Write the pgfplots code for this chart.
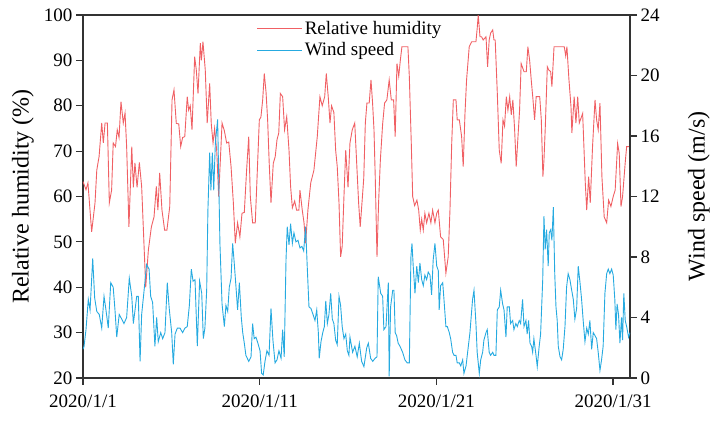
\documentclass[border=0pt]{standalone}
\usepackage{pgfplots}
\pgfplotsset{compat=1.18}
\usepackage{pgfplotstable}
\usepackage{fontspec}
\setmainfont{Liberation Serif}

\definecolor{rhred}{RGB}{240,96,100}
\definecolor{wsblue}{RGB}{38,170,224}

% relative humidity (%), x = days since 2020/1/1 00:00
\pgfplotstableread{
d rh
0.00 63.3
0.17 61.5
0.28 63.0
0.49 52.2
0.68 58.6
0.78 65.8
0.91 68.8
1.06 76.2
1.15 71.8
1.25 76.2
1.38 76.2
1.49 58.6
1.62 61.4
1.71 71.8
1.84 71.0
1.94 74.7
2.04 73.0
2.15 80.9
2.28 76.2
2.38 78.4
2.47 71.0
2.60 53.3
2.76 71.0
2.85 62.0
2.94 67.4
3.06 62.0
3.19 67.5
3.32 62.2
3.55 40.0
3.70 48.2
3.87 53.3
4.02 55.5
4.15 62.2
4.24 57.0
4.34 65.2
4.47 57.0
4.62 52.6
4.75 52.6
4.91 57.8
5.04 81.3
5.15 83.5
5.28 76.1
5.42 76.0
5.53 71.0
5.64 73.0
5.76 73.2
5.90 82.0
5.98 79.0
6.07 80.0
6.17 74.7
6.32 90.8
6.41 88.0
6.51 82.7
6.64 93.8
6.70 90.0
6.79 94.1
6.92 87.9
7.03 76.2
7.17 84.9
7.26 76.0
7.36 71.8
7.45 75.0
7.57 70.0
7.68 60.0
7.87 76.2
8.00 74.5
8.13 71.8
8.25 72.0
8.38 66.6
8.51 58.6
8.62 49.7
8.75 54.2
8.88 51.1
9.00 56.3
9.13 56.5
9.26 65.8
9.38 73.2
9.47 60.0
9.60 54.2
9.75 54.2
9.89 68.0
9.98 76.9
10.07 77.5
10.17 81.3
10.26 87.1
10.36 83.0
10.45 76.9
10.54 67.3
10.64 58.6
10.77 67.3
10.88 68.8
10.98 72.5
11.08 74.0
11.17 82.7
11.30 82.0
11.41 74.7
11.53 77.6
11.66 70.2
11.75 62.2
11.85 57.5
11.98 59.0
12.09 57.0
12.22 57.0
12.28 61.4
12.41 57.0
12.51 54.2
12.60 49.7
12.73 57.0
12.89 63.0
13.07 65.8
13.26 73.2
13.41 82.0
13.54 80.0
13.68 82.0
13.77 87.1
13.88 82.0
13.98 76.2
14.07 80.0
14.20 78.5
14.30 70.2
14.39 66.6
14.49 58.6
14.58 46.7
14.67 49.0
14.77 60.0
14.87 70.2
15.00 62.0
15.11 71.8
15.24 74.7
15.38 76.2
15.51 65.8
15.60 58.6
15.69 53.3
15.79 58.6
15.89 64.0
15.98 76.2
16.07 80.6
16.20 80.6
16.30 85.7
16.39 80.6
16.47 74.7
16.54 64.4
16.64 46.7
16.73 58.6
16.83 68.0
16.96 76.0
17.07 80.6
17.20 81.3
17.33 85.7
17.45 81.3
17.58 81.3
17.67 73.2
17.77 89.3
17.87 86.5
17.96 90.0
18.05 93.0
18.24 93.0
18.39 93.0
18.47 86.4
18.58 71.8
18.66 60.0
18.77 58.0
18.90 59.2
19.00 57.0
19.09 52.6
19.17 55.0
19.26 52.6
19.35 56.3
19.45 54.2
19.58 56.3
19.69 54.2
19.79 57.0
19.92 54.2
20.02 56.3
20.11 57.0
20.24 51.1
20.39 50.5
20.54 43.1
20.67 46.7
20.77 57.0
20.87 71.8
20.96 81.3
21.11 81.3
21.18 76.9
21.30 76.9
21.43 73.2
21.52 66.6
21.62 78.3
21.71 85.7
21.86 93.0
22.00 94.1
22.13 94.1
22.24 94.1
22.31 97.0
22.37 100.0
22.47 95.2
22.56 95.2
22.65 94.5
22.81 95.2
22.90 88.6
22.99 94.5
23.07 96.0
23.19 96.7
23.26 94.5
23.33 94.5
23.45 82.7
23.56 70.2
23.67 67.3
23.77 76.9
23.86 75.5
23.96 82.0
24.05 79.0
24.15 82.0
24.24 78.0
24.33 81.3
24.43 74.7
24.52 66.6
24.62 73.2
24.71 79.0
24.80 89.3
24.96 87.5
25.09 87.5
25.18 93.0
25.28 90.0
25.37 85.7
25.47 81.3
25.56 76.9
25.65 82.0
25.85 82.0
25.94 76.9
26.03 64.4
26.09 68.0
26.16 74.7
26.28 88.6
26.36 87.9
26.47 87.5
26.54 84.2
26.66 93.0
26.88 93.0
27.11 93.0
27.24 93.0
27.32 91.0
27.39 93.0
27.50 86.0
27.62 79.8
27.67 74.0
27.80 82.0
27.90 76.2
28.00 82.0
28.09 76.2
28.28 78.3
28.43 62.9
28.51 57.0
28.62 64.4
28.71 58.6
28.84 71.0
28.98 81.3
29.07 76.9
29.16 74.7
29.26 80.6
29.37 64.4
29.50 55.5
29.64 54.2
29.75 59.2
29.88 57.8
30.01 60.0
30.12 61.4
30.26 71.7
30.35 69.5
30.45 57.8
30.54 60.0
30.69 67.5
30.77 71.0
30.96 71.0
}\rhdata

% wind speed (m/s)
\pgfplotstableread{
d ws
0.00 1.9
0.06 2.1
0.17 3.2
0.30 5.2
0.40 4.5
0.55 7.9
0.66 5.3
0.78 4.4
0.92 4.2
1.06 3.3
1.19 5.4
1.30 4.5
1.43 3.3
1.57 6.3
1.71 6.0
1.81 4.5
1.91 2.7
2.05 4.2
2.19 3.9
2.32 3.6
2.47 4.0
2.62 6.6
2.76 5.4
2.85 3.6
3.04 5.4
3.13 5.4
3.23 1.1
3.32 4.2
3.45 5.7
3.60 7.5
3.74 7.2
3.83 5.4
3.94 5.0
4.07 2.1
4.17 4.0
4.26 2.4
4.40 3.0
4.51 2.6
4.64 3.0
4.77 6.3
4.88 4.6
5.02 3.0
5.11 0.9
5.21 2.9
5.34 3.3
5.49 3.3
5.64 3.0
5.77 3.3
5.90 3.4
6.02 4.8
6.13 7.2
6.23 6.4
6.34 6.5
6.47 2.1
6.60 6.4
6.72 5.6
6.81 2.6
6.90 3.3
7.00 5.8
7.07 11.1
7.17 14.9
7.24 12.4
7.32 14.9
7.40 12.4
7.49 15.5
7.62 17.1
7.75 8.9
7.87 4.9
8.00 3.4
8.09 4.8
8.19 4.4
8.28 6.0
8.38 6.6
8.47 8.9
8.56 7.6
8.66 6.0
8.75 4.5
8.85 6.3
8.96 4.0
9.04 3.0
9.13 2.3
9.22 1.5
9.38 1.1
9.51 1.4
9.60 3.6
9.69 2.6
9.79 2.7
9.90 2.3
10.02 1.8
10.11 0.3
10.20 0.2
10.30 1.1
10.41 1.8
10.53 1.5
10.64 4.6
10.75 2.5
10.87 1.0
10.98 1.2
11.09 1.8
11.21 1.3
11.30 3.2
11.39 1.4
11.49 7.8
11.56 10.0
11.66 8.8
11.75 10.2
11.85 8.9
11.94 9.6
12.05 9.0
12.17 9.1
12.28 8.6
12.39 8.7
12.49 8.4
12.60 10.0
12.69 7.4
12.79 4.7
12.90 4.6
13.02 4.2
13.13 3.8
13.23 4.5
13.32 3.0
13.37 1.3
13.47 2.4
13.57 3.0
13.66 3.4
13.74 5.1
13.83 3.6
13.92 4.2
14.02 5.6
14.11 3.9
14.20 3.6
14.30 2.5
14.39 2.2
14.49 5.4
14.58 4.8
14.67 3.4
14.77 2.6
14.87 2.9
14.96 1.8
15.05 1.5
15.11 2.7
15.26 1.7
15.39 2.1
15.52 1.4
15.64 2.3
15.77 1.1
15.90 0.75
16.06 2.0
16.15 2.3
16.28 1.3
16.40 1.1
16.53 1.3
16.64 1.4
16.71 6.7
16.85 5.6
16.96 5.4
17.03 3.2
17.15 3.4
17.28 6.3
17.33 0.1
17.41 4.7
17.53 5.8
17.60 5.8
17.67 3.0
17.75 2.8
17.84 2.3
17.94 2.1
18.09 1.7
18.22 1.2
18.35 1.0
18.47 1.0
18.56 8.0
18.62 8.9
18.69 7.4
18.79 5.6
18.89 7.4
18.98 6.3
19.07 7.6
19.17 6.5
19.26 6.1
19.35 6.8
19.45 6.5
19.54 7.0
19.64 6.8
19.73 5.5
19.82 7.8
19.92 8.9
20.02 7.4
20.11 7.1
20.16 4.5
20.24 6.1
20.36 6.3
20.43 5.2
20.54 3.4
20.62 3.4
20.73 3.0
20.81 2.6
20.92 1.7
21.00 1.5
21.11 1.5
21.18 1.0
21.30 1.0
21.38 0.8
21.49 1.2
21.56 0.3
21.68 0.8
21.81 2.1
21.90 3.0
22.05 5.2
22.13 5.8
22.24 3.6
22.31 1.7
22.43 0.3
22.51 1.2
22.62 1.7
22.69 2.5
22.81 3.0
22.88 3.2
22.99 1.7
23.07 1.5
23.19 1.7
23.26 1.5
23.37 1.5
23.45 4.5
23.56 4.7
23.64 5.8
23.75 4.9
23.83 4.5
23.94 2.7
24.01 4.7
24.13 4.7
24.20 3.6
24.32 3.8
24.39 3.2
24.50 3.6
24.58 3.4
24.69 3.8
24.77 3.6
24.88 5.2
24.96 3.4
25.07 3.8
25.14 2.9
25.22 3.8
25.30 2.3
25.39 2.1
25.45 1.7
25.52 2.6
25.64 1.5
25.71 0.75
25.82 2.1
25.90 2.9
26.02 6.5
26.09 10.7
26.16 8.5
26.24 9.8
26.33 7.4
26.39 9.6
26.47 9.8
26.54 9.1
26.62 11.3
26.70 6.9
26.77 4.7
26.84 3.8
26.90 2.1
27.00 1.4
27.09 1.2
27.18 1.9
27.28 3.4
27.37 6.0
27.46 6.9
27.56 6.5
27.66 5.8
27.75 5.2
27.84 3.9
27.94 4.6
28.03 7.4
28.13 6.3
28.22 5.2
28.31 3.8
28.41 2.4
28.51 3.3
28.60 2.9
28.69 3.8
28.79 1.9
28.88 3.0
28.98 2.8
29.07 2.6
29.16 1.7
29.26 0.5
29.35 1.2
29.44 2.1
29.54 5.6
29.64 6.9
29.73 7.2
29.82 6.9
29.92 7.2
30.01 6.8
30.10 5.2
30.16 3.2
30.23 4.9
30.31 4.2
30.39 2.3
30.48 4.0
30.54 2.5
30.61 5.6
30.69 3.8
30.77 3.4
30.88 2.7
30.96 3.0
}\wsdata

\pgfplotsset{
  every axis/.append style={
    scale only axis, width=547pt, height=363pt,
    xmin=0, xmax=30.96,
    tick align=outside, major tick length=7pt,
    tick style={line width=1.1pt, black!80},
    axis line style={line width=1.3pt, black!80},
    /pgf/number format/assume math mode=true,
    tick label style={font=\fontsize{19}{19}\selectfont},
    label style={font=\fontsize{24}{24}\selectfont},
  },
}

\begin{document}
\begin{tikzpicture}
\begin{axis}[name=main,
  ymin=20, ymax=100, ytick={20,30,...,100},
  xtick={0,10,20,30},
  xticklabels={2020/1/1,2020/1/11,2020/1/21,2020/1/31},
  xticklabel style={yshift=-6pt},
  xtick pos=bottom, ytick pos=left,
  ylabel={Relative humidity (\%)},
  ylabel style={at={(axis description cs:-0.11,0.5)}, anchor=center},
]
\addplot[rhred, line width=0.9pt] table[x=d, y=rh] {\rhdata};
\end{axis}
\begin{axis}[
  ymin=0, ymax=24, ytick={0,4,...,24},
  axis x line=none, axis y line*=right,
  ylabel={Wind speed (m/s)},
  ylabel style={at={(axis description cs:1.126,0.5)}, anchor=center},
  legend style={at={(0.312,0.995)}, anchor=north west, draw=none, fill=none,
    font=\fontsize{19}{19}\selectfont, row sep=3pt},
  legend cell align=left,
  legend image code/.code={\draw[#1] (0pt,0pt) -- (45pt,0pt);},
]
\addlegendimage{rhred, line width=0.9pt}
\addlegendentry{Relative humidity}
\addplot[wsblue, line width=0.9pt] table[x=d, y=ws] {\wsdata};
\addlegendentry{Wind speed}
\end{axis}
\pgfresetboundingbox
\path ([xshift=-83pt,yshift=-43pt]main.south west) rectangle ([xshift=80pt,yshift=15pt]main.north east);
\end{tikzpicture}
\end{document}
